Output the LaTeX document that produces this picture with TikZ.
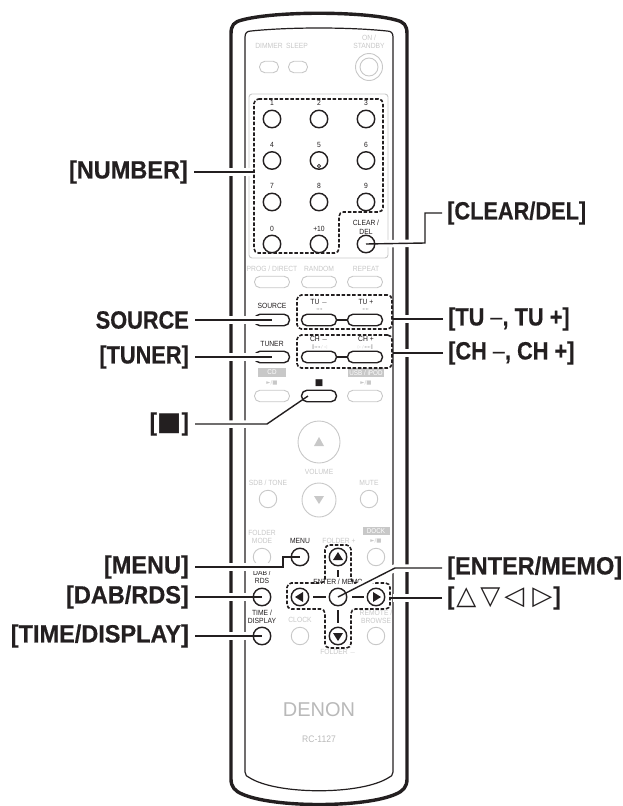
\documentclass[tikz,border=0pt]{standalone}
\usepackage{fontspec}
\usepackage{xcolor}
\usetikzlibrary{arrows.meta, positioning, calc}
\setmainfont{Liberation Sans}
\newfontfamily\callfont[FakeStretch=0.87, BoldFeatures={FakeBold=0.5}]{Liberation Sans}
\newfontfamily\callwide[FakeStretch=0.94, BoldFeatures={FakeBold=0.5}]{Liberation Sans}
\newfontfamily\keyfont[FakeStretch=0.9]{Liberation Sans}
\newfontfamily\symfont{DejaVu Sans}
\definecolor{inkblack}{RGB}{35, 31, 32}
\definecolor{mutegray}{RGB}{200, 200, 200}
\definecolor{logogray}{RGB}{185, 185, 185}

\begin{document}
\begin{tikzpicture}[
	x=1pt, y=-1pt,
	% remote keys
	button/.style={
			circle,
			minimum size=17.5pt,
			inner sep=0pt,
			outer sep=0pt,
			fill=white,
			draw=inkblack,
			line width=1.4pt
		},
	mutebutton/.style={
			button,
			draw=mutegray,
			line width=0.9pt
		},
	pill/.style={
			rectangle,
			rounded corners=5.5pt,
			minimum width=35pt,
			minimum height=11.5pt,
			inner sep=0pt,
			outer sep=0pt,
			fill=white,
			draw=inkblack,
			line width=1.4pt
		},
	mutepill/.style={
			pill,
			draw=mutegray,
			line width=0.9pt
		},
	% small print on the remote
	keytext/.style={
			font=\fontsize{7.5}{8.6}\selectfont\keyfont,
			text=inkblack,
			align=center,
			inner sep=0pt
		},
	mutetext/.style={
			keytext,
			text=mutegray
		},
	tagbox/.style={
			fill=mutegray,
			text=white,
			font=\fontsize{7}{8}\selectfont\keyfont,
			inner sep=0pt,
			minimum height=9pt
		},
	% callouts
	leftcall/.style={
			font=\fontsize{25}{27}\selectfont\callfont\bfseries,
			text=inkblack,
			anchor=east,
			inner ysep=0pt,
			inner xsep=6pt
		},
	rightcall/.style={
			leftcall,
			anchor=west,
			inner xsep=5pt
		},
	widecall/.style={
			font=\fontsize{25}{27}\selectfont\callwide\bfseries
		},
	leader/.style={
			draw=inkblack,
			line width=1.4pt,
			preaction={draw=white, line width=7.5pt, shorten >=3pt}
		},
	keyleader/.style={
			draw=inkblack,
			line width=1.4pt,
			preaction={draw=white, line width=7.5pt, shorten >=13pt}
		},
	link/.style={
			draw=inkblack,
			line width=1.3pt
		},
	dashbox/.style={
			draw=inkblack,
			line width=1.6pt,
			dash pattern=on 3.5pt off 1.8pt,
			rounded corners=4.5pt
		}
	]

	\useasboundingbox (0,0) rectangle (623,806);

	% Remote body
	\draw[inkblack, line width=3.4pt] (231,34) .. controls (231,25) and (234,22) .. (242,20)
		.. controls (275,11) and (363,11) .. (396,20)
		.. controls (404,22) and (407,25) .. (407,34)
		-- (407,779) .. controls (407,787) and (403,791) .. (396,794)
		.. controls (365,808) and (273,808) .. (242,794)
		.. controls (235,791) and (231,787) .. (231,779) -- cycle;
	\draw[inkblack, line width=1.2pt] (245,37) .. controls (245,33) and (247,31) .. (251,31)
		.. controls (290,27) and (348,27) .. (387,31)
		.. controls (391,31) and (393,33) .. (393,37)
		-- (393,772) .. controls (393,775) and (391,777) .. (388,778)
		.. controls (360,795) and (278,795) .. (250,778)
		.. controls (247,777) and (245,775) .. (245,772) -- cycle;

	% Top row
	\node[mutepill, minimum width=19pt] (dimmer) at (269,67) {};
	\node[mutepill, minimum width=19pt, right=10pt of dimmer] (sleep) {};
	\node[mutebutton, minimum size=27pt] (standby) at (369,67) {};
	\node[mutebutton, minimum size=18pt] (standbyin) at (369,67) {};
	\node[mutetext] at (269,46) {DIMMER};
	\node[mutetext] at (297,46) {SLEEP};
	\node[mutetext] at (369,42) {ON /\\STANDBY};

	% Number pad
	\draw[mutegray, line width=0.9pt, rounded corners=3pt] (249,94) rectangle (388,258);
	\node[button] (one) at (272,119) {};
	\node[button, right=29.5pt of one] (two) {};
	\node[button, right=29.5pt of two] (three) {};
	\node[button, below=24pt of one] (four) {};
	\node[button, right=29.5pt of four] (five) {};
	\node[button, right=29.5pt of five] (six) {};
	\node[button, below=24pt of four] (seven) {};
	\node[button, right=29.5pt of seven] (eight) {};
	\node[button, right=29.5pt of eight] (nine) {};
	\node[button, below=24.5pt of seven] (zero) {};
	\node[button, right=29.5pt of zero] (plusten) {};
	\node[button, right=29.5pt of plusten] (clear) {};
	\node[keytext] at (272,103) {1};
	\node[keytext] at (319,103) {2};
	\node[keytext] at (366,103) {3};
	\node[keytext] at (272,145) {4};
	\node[keytext] at (319,145) {5};
	\node[keytext] at (366,145) {6};
	\node[keytext] at (272,186) {7};
	\node[keytext] at (319,186) {8};
	\node[keytext] at (366,186) {9};
	\node[keytext] at (272,229) {0};
	\node[keytext] at (319,229) {+10};
	\node[keytext] at (366,227) {CLEAR /\\DEL};
	\draw[inkblack, line width=0.7pt] (319,166) circle (1.6pt);

	% Pill rows
	\node[mutepill] (prog) at (272,282) {};
	\node[mutepill, right=12pt of prog] (random) {};
	\node[mutepill, right=11pt of random] (repeatkey) {};
	\node[mutetext] at (272,269) {PROG / DIRECT};
	\node[mutetext] at (319,269) {RANDOM};
	\node[mutetext] at (366,269) {REPEAT};

	\node[pill] (source) at (272,320) {};
	\node[pill, right=12pt of source] (tuminus) {};
	\node[pill, right=11pt of tuminus] (tuplus) {};
	\node[pill, below=25.5pt of source] (tuner) {};
	\node[pill, right=12pt of tuner] (chminus) {};
	\node[pill, right=11pt of chminus] (chplus) {};
	\draw[link] (tuminus) -- (tuplus);
	\draw[link] (chminus) -- (chplus);
	\node[keytext] at (272,306) {SOURCE};
	\node[keytext] at (319,302) {TU $-$};
	\node[keytext] at (366,302) {TU +};
	\node[mutetext, font=\fontsize{4}{5}\selectfont\symfont] at (319,309) {◄◄};
	\node[mutetext, font=\fontsize{4}{5}\selectfont\symfont] at (366,309) {►►};
	\node[keytext] at (272,344) {TUNER};
	\node[keytext] at (319,339) {CH $-$};
	\node[keytext] at (366,339) {CH +};
	\node[mutetext, font=\fontsize{4}{5}\selectfont\symfont] at (319,347) {▐◄◄ / ◁};
	\node[mutetext, font=\fontsize{4}{5}\selectfont\symfont] at (366,347) {▷ / ►►▌};

	\node[mutepill] (cdkey) at (272,396) {};
	\node[pill, right=12pt of cdkey] (stopkey) {};
	\node[mutepill, right=11pt of stopkey] (usbkey) {};
	\node[tagbox, minimum width=28pt] at (272,372.5) {CD};
	\node[tagbox, minimum width=36pt] at (366,372.5) {USB / iPOD};
	\node[mutetext, font=\fontsize{5.5}{6}\selectfont\symfont] at (272,383) {►/■};
	\node[mutetext, font=\fontsize{5.5}{6}\selectfont\symfont] at (366,383) {►/■};
	\node[keytext, font=\fontsize{9}{9}\selectfont\symfont] at (319,383) {■};

	% Volume
	\node[mutebutton, minimum size=42pt] (volup) at (319,442) {};
	\node[mutebutton, minimum size=34pt] (voldown) at (319,500) {};
	\fill[mutegray] (319,437) -- (324,446) -- (314,446) -- cycle;
	\fill[mutegray] (319,504) -- (324,496) -- (314,496) -- cycle;
	\node[mutetext] at (319,472) {VOLUME};
	\node[mutebutton] (sdb) at (268,499) {};
	\node[mutebutton] (mute) at (369,499) {};
	\node[mutetext] at (268,483) {SDB / TONE};
	\node[mutetext] at (369,483) {MUTE};

	% Lower keys
	\node[mutebutton] (foldermode) at (262,557) {};
	\node[button] (menu) at (300,557) {};
	\node[mutebutton] (dock) at (376,557) {};
	\node[button] (dab) at (262,597) {};
	\node[button] (timedisplay) at (262,636) {};
	\node[mutebutton] (clock) at (300,636) {};
	\node[mutebutton] (browse) at (376,636) {};
	\node[mutetext] at (262,537) {FOLDER\\MODE};
	\node[keytext] at (300,541) {MENU};
	\node[mutetext] at (339,541) {FOLDER +};
	\node[tagbox, minimum width=27pt, minimum height=8pt] at (376,531) {DOCK};
	\node[mutetext, font=\fontsize{5.5}{6}\selectfont\symfont] at (376,541) {►/■};
	\node[keytext] at (262,577) {DAB /\\RDS};
	\node[keytext] at (338,582) {ENTER / MEMO};
	\node[keytext] at (262,617) {TIME /\\DISPLAY};
	\node[mutetext] at (300,620) {CLOCK};
	\node[mutetext] at (376,617) {REMOTE /\\BROWSE};
	\node[mutetext] at (338,652) {FOLDER $-$};

	% Cursor keys
	\node[button] (upkey) at (338,557) {};
	\node[button] (enter) at (338,597) {};
	\node[button] (leftkey) at (300,597) {};
	\node[button] (rightkey) at (376,597) {};
	\node[button] (downkey) at (338,636) {};
	\fill[inkblack] (338,552) -- (343,560) -- (333,560) -- cycle;
	\fill[inkblack] (338,641) -- (343,633) -- (333,633) -- cycle;
	\fill[inkblack] (295,597) -- (303,592) -- (303,602) -- cycle;
	\fill[inkblack] (381,597) -- (373,592) -- (373,602) -- cycle;
	\draw[link, shorten <=4.5pt, shorten >=11pt] (upkey) -- (enter);
	\draw[link, shorten <=4.5pt, shorten >=3.5pt] (leftkey) -- (enter);
	\draw[link, shorten <=5.5pt, shorten >=3.5pt] (enter) -- (rightkey);
	\draw[link, shorten <=4.5pt, shorten >=4.5pt] (enter) -- (downkey);

	% Dashed groups
	\coordinate (numedge) at (254,172);
	\draw[dashbox] (254,99) -- (383,99) -- (383,212) -- (339,212) -- (339,253) -- (254,253) -- cycle;
	\node[dashbox, minimum width=95pt, minimum height=34pt] (tubox) at (344.5,312) {};
	\node[dashbox, minimum width=95pt, minimum height=33pt] (chbox) at (344.5,351.5) {};
	\coordinate (crossedge) at (390,598);
	\draw[dashbox] (325,545) -- (351,545) -- (351,583) -- (390,583) -- (390,609) -- (351,609)
		-- (351,648) -- (325,648) -- (325,609) -- (287,609) -- (287,583) -- (325,583) -- cycle;

	% Callouts on the left
	\node[leftcall, widecall] (lblnumber) at (194,172) {[NUMBER]};
	\node[leftcall] (lblsource) at (195,320) {SOURCE};
	\node[leftcall] (lbltuner) at (195,357) {[TUNER]};
	\node[leftcall] (lblstop) at (195,424) {[{\mdseries\symfont\fontsize{26}{28}\selectfont ■}]};
	\node[leftcall, widecall] (lblmenu) at (195,567) {[MENU]};
	\node[leftcall, widecall] (lbldab) at (195,597) {[DAB/RDS]};
	\node[leftcall, widecall] (lbltime) at (195,636) {[TIME/DISPLAY]};

	% Callouts on the right
	\node[rightcall] (lblclear) at (442,213) {[CLEAR/DEL]};
	\node[rightcall] (lbltu) at (443,319) {[TU {\mdseries –}, TU +]};
	\node[rightcall] (lblch) at (443,353) {[CH {\mdseries –}, CH +]};
	\node[rightcall, widecall] (lblenter) at (442,568) {[ENTER/MEMO]};
	\node[rightcall] (lblarrows) at (442,598) {[\hspace{2pt}{\symfont\mdseries\fontsize{26}{28}\selectfont △\hspace{4pt}▽\hspace{4pt}◁\hspace{8pt}▷}\hspace{1pt}]};

	% Leaders
	\draw[leader] (lblnumber.east) -- (numedge);
	\draw[keyleader] (lblsource.east) -- (source.center);
	\draw[keyleader] (lbltuner.east) -- (tuner.center);
	\draw[keyleader] (lblstop.east) -- (267,424) -- ([xshift=-11pt]stopkey.center);
	\draw[keyleader] (lblmenu.east) -- (283,567) -- (283,557) -- (menu.center);
	\draw[keyleader] (lbldab.east) -- (dab.center);
	\draw[keyleader] (lbltime.east) -- (timedisplay.center);
	\draw[keyleader] (lblclear.west) -- (425,213) -- (425,243) -- (clear.center);
	\draw[leader] (lbltu.west) -- (tubox.east |- lbltu.west);
	\draw[leader] (lblch.west) -- (chbox.east |- lblch.west);
	\draw[keyleader] (lblenter.west) -- (395,568) -- (enter.center);
	\draw[leader] (lblarrows.west) -- (crossedge);

	% Maker
	\node[text=logogray, font=\fontsize{20}{22}\selectfont] (logo) at (319,710) {DENON};
	\node[mutetext, text=logogray, font=\fontsize{9.5}{10}\selectfont\keyfont, below=26pt of logo.center] (model) {RC-1127};

\end{tikzpicture}
\end{document}
